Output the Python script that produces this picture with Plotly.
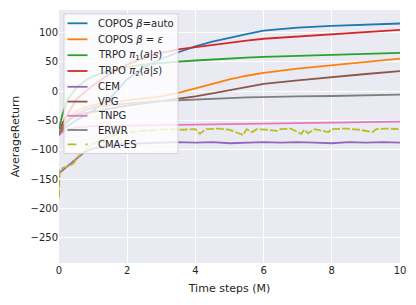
import plotly.graph_objects as go

# common time grid (M steps)
t = [0, 0.1, 0.25, 0.5, 0.75, 1, 1.5, 2, 2.5, 3, 3.5, 4, 4.5, 5, 5.5, 6, 7, 8, 9, 10]

copos_auto = [-72, -66, -60, -50, -42, -33, -12, 20, 40, 55, 66, 76, 84, 91, 97, 103, 108, 111, 113, 115]
copos_eps = [-75, -64, -50, -35, -28, -24, -19, -16, -13, -9, -3, 5, 13, 20, 26, 31, 38, 44, 50, 55]
trpo_pi1 = [-65, -40, -15, 5, 17, 25, 35, 41, 45, 48, 50, 52, 54, 55, 57, 58, 60, 62, 63.5, 65]
trpo_pi2 = [-75, -55, -40, -15, -2, 10, 30, 45, 57, 65, 71, 75, 79, 82, 86, 89, 93, 97, 100, 104]
vpg = [-75, -62, -52, -42, -38, -35, -30, -25, -21, -18, -14, -9, -4, 1, 7, 12, 18, 24, 29, 34]
tnpg = [-75, -70, -66, -62, -61, -60, -59.5, -59, -58.5, -58, -58, -57.5, -57, -56.5, -56, -55.5, -55, -54, -53, -52]
erwr = [-75, -60, -50, -40, -33, -28, -24, -21, -19, -17, -15.5, -14, -13, -12, -11, -10, -9, -8.5, -7.5, -6]

t_cem = [0, 0.1, 0.25, 0.5, 0.75, 1, 1.25, 1.5, 1.75, 2, 2.5, 3, 3.5, 4, 4.5, 5, 5.5, 6, 6.5, 7, 7.5, 8, 8.5, 9, 9.5, 10]
cem = [-140, -135, -128, -115, -104, -98, -95, -93, -91, -90, -89, -88, -87, -88, -87, -89, -88, -87, -88, -87, -88, -89, -87, -88, -87, -88]

t_cma = [0, 0.02, 0.05, 0.15, 0.3, 0.45, 0.5, 0.55, 0.7, 0.85, 1.0, 1.2, 1.4, 1.6, 1.85, 2.1, 2.4, 2.8, 3.2, 3.6, 4.0, 4.13, 4.3,
         4.7, 5.0, 5.4, 5.5, 5.66, 5.8, 6.1, 6.4, 6.5, 6.8, 7.1, 7.2, 7.3, 7.5, 7.9, 8.0, 8.4, 8.8, 9.2, 9.3, 9.6, 10]
cma_es = [-182, -135, -133, -130, -128, -122, -116, -112, -104, -96, -90, -84, -79, -76, -73, -70, -68, -66, -65, -66, -65, -73, -65,
          -64, -66, -75, -65, -70, -65, -66, -68, -65, -64, -73, -66, -72, -65, -70, -65, -64, -66, -70, -65, -64, -65]

names = ["COPOS <i>β</i>=auto", "COPOS <i>β</i> = <i>ε</i>", "TRPO <i>π</i><sub>1</sub>(<i>a</i>|<i>s</i>)",
         "TRPO <i>π</i><sub>2</sub>(<i>a</i>|<i>s</i>)", "CEM", "VPG", "TNPG", "ERWR", "CMA-ES"]
colors = ["#1f77b4", "#ff7f0e", "#2ca02c", "#d62728", "#9467bd", "#8c564b", "#e377c2", "#7f7f7f", "#bcbd22"]
trace_dash = ["solid"] * 8 + ["8px,2px"]
legend_dash = ["solid"] * 8 + ["dash"]

series = [(t, copos_auto), (t, copos_eps), (t, trpo_pi1), (t, trpo_pi2), (t_cem, cem),
          (t, vpg), (t, tnpg), (t, erwr), (t_cma, cma_es)]

W, H = 416, 305
ML, MR, MT, MB = 59, 16, 10, 42
PW, PH = W - ML - MR, H - MT - MB


def px_x(p):
    return (p - ML) / PW


def px_y(p):
    return (H - MB - p) / PH


fig = go.Figure()
for (xs, ys), nm, c, d in zip(series, names, colors, trace_dash):
    fig.add_trace(go.Scatter(x=xs, y=ys, name=nm, mode="lines", showlegend=False,
                             line=dict(color=c, width=1.8, dash=d)))

# manual legend (matplotlib-like compact spacing)
row_y = [23.3, 39.3, 55.2, 71.0, 86.8, 101.6, 115.8, 130.0, 144.3]
shapes = [dict(type="rect", xref="paper", yref="paper", layer="above",
               x0=px_x(64), x1=px_x(178), y0=px_y(153.5), y1=px_y(14),
               fillcolor="rgba(255,255,255,0.8)", line=dict(color="rgba(204,204,204,0.8)", width=1))]
annotations = []
for nm, c, d, ry in zip(names, colors, legend_dash, row_y):
    shapes.append(dict(type="line", xref="paper", yref="paper", layer="above",
                       x0=px_x(67.5), x1=px_x(87.5), y0=px_y(ry), y1=px_y(ry),
                       line=dict(color=c, width=1.8, dash=d)))
    annotations.append(dict(text=nm, xref="paper", yref="paper", x=px_x(95.5), y=px_y(ry),
                            xanchor="left", yanchor="middle", showarrow=False,
                            font=dict(family="DejaVu Sans", size=10, color="#262626")))

fig.update_layout(
    width=W, height=H,
    margin=dict(l=ML, r=MR, t=MT, b=MB, autoexpand=False),
    paper_bgcolor="white", plot_bgcolor="#EAEAF2",
    font=dict(family="DejaVu Sans", size=10, color="#262626"),
    showlegend=False,
    shapes=shapes, annotations=annotations,
    xaxis=dict(range=[0, 10], tickvals=[0, 2, 4, 6, 8, 10], showgrid=True, gridcolor="white", gridwidth=1,
               zeroline=False, showline=False, ticks="", ticklen=0,
               title=dict(text="Time steps (M)", font=dict(size=11), standoff=9)),
    yaxis=dict(range=[-293, 138], tickvals=[100, 50, 0, -50, -100, -150, -200, -250], showgrid=True,
               gridcolor="white", gridwidth=1, zeroline=False, showline=False, ticks="",
               title=dict(text="AverageReturn", font=dict(size=11), standoff=8)),
)

fig.write_html("out.html", config={"displayModeBar": False},
               post_script="document.body.style.margin='0';")
